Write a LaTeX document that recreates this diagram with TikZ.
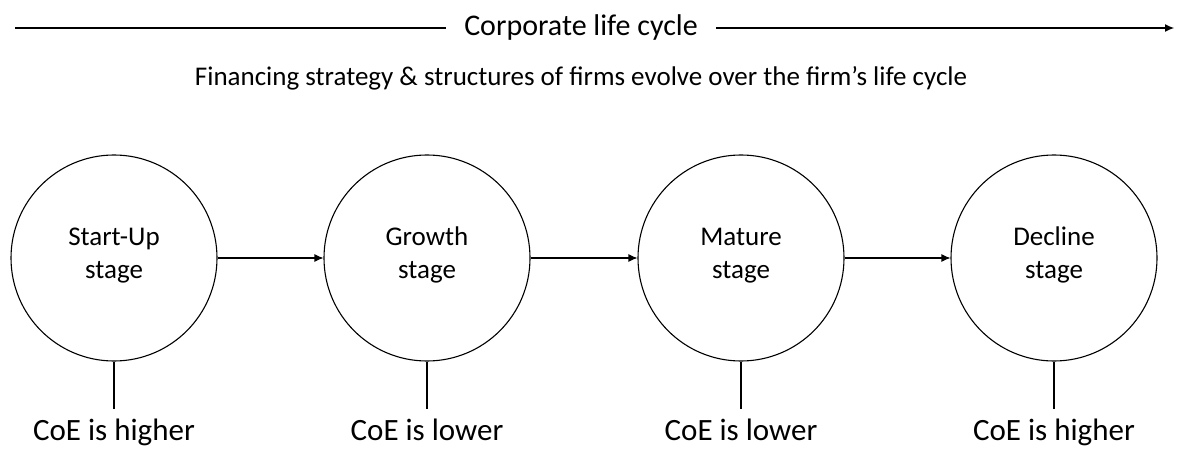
\documentclass[tikz,border=0pt]{standalone}
\usepackage{fontspec}
\setmainfont{Carlito}
\usepackage{tikz}
\usetikzlibrary{arrows.meta}

\begin{document}
\begin{tikzpicture}[x=1pt, y=-1pt, line width=1.1pt,
  stage/.style={circle, draw, minimum size=206pt, align=center, font=\fontsize{27}{33}\selectfont, execute at begin node=\strut},
  coe/.style={anchor=base, inner xsep=0pt, inner ysep=9pt, font=\fontsize{31}{37}\selectfont},
  link/.style={-{Latex[length=9pt,width=8pt]}}]

\useasboundingbox (0,0) rectangle (1180,449);

% life cycle line
\node[font=\fontsize{30}{36}\selectfont, inner xsep=18pt] (title) at (581,28) {Corporate life cycle};
\coordinate (lstart) at (15,28);
\coordinate (lend) at (1174,28);
\draw (lstart) -- (title.west);
\draw[link] (title.east) -- (lend);

\node[font=\fontsize{27}{32}\selectfont] (sub) at (581,78) {Financing strategy \& structures of firms evolve over the firm’s life cycle};

% stages
\node[stage] (start) at (114,258) {Start-Up\\stage};
\node[stage] (growth) at (427,258) {Growth\\stage};
\node[stage] (mature) at (741,258) {Mature\\stage};
\node[stage] (decline) at (1054,258) {Decline\\stage};

\draw[link] (start) -- (growth);
\draw[link] (growth) -- (mature);
\draw[link] (mature) -- (decline);

% cost of equity
\node[coe] (startcoe) at (114,440) {CoE is higher};
\node[coe] (growthcoe) at (427,440) {CoE is lower};
\node[coe] (maturecoe) at (741,440) {CoE is lower};
\node[coe] (declinecoe) at (1054,440) {CoE is higher};

\draw (start.south) -- (startcoe.north);
\draw (growth.south) -- (growthcoe.north);
\draw (mature.south) -- (maturecoe.north);
\draw (decline.south) -- (declinecoe.north);

\end{tikzpicture}
\end{document}
